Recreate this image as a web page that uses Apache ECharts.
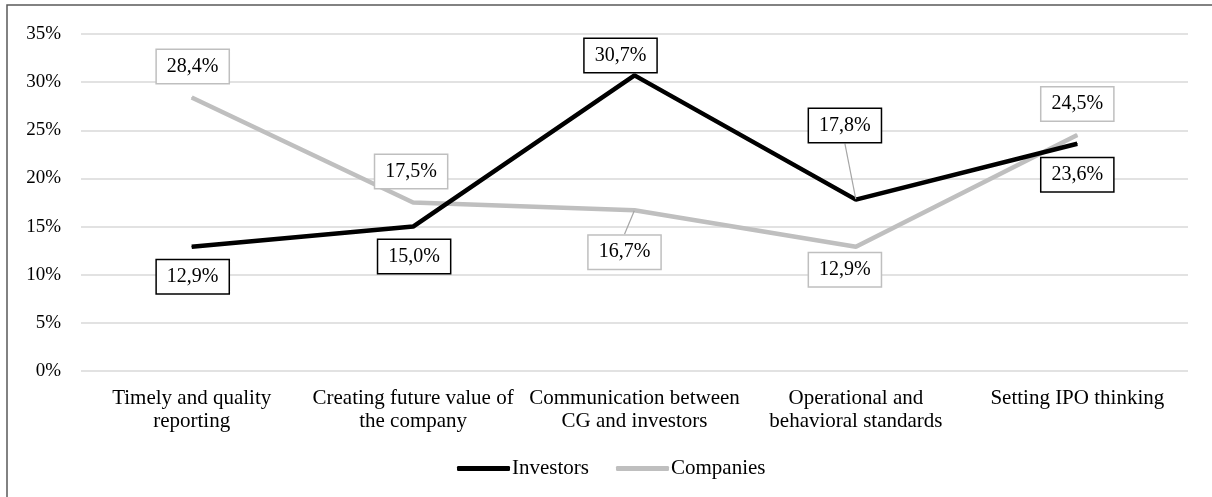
<!DOCTYPE html>
<html>
<head>
<meta charset="utf-8">
<script src="https://cdn.jsdelivr.net/npm/echarts@6/dist/echarts.min.js"></script>
<style>
  html, body { margin: 0; padding: 0; background: #fff; }
  #chart { width: 1212px; height: 497px; }
</style>
</head>
<body>
<div id="chart"></div>
<script>
  // categories on the x axis
  var categories = [
    'Timely and quality\nreporting',
    'Creating future value of\nthe company',
    'Communication between\nCG and investors',
    'Operational and\nbehavioral standards',
    'Setting IPO thinking'
  ]
  // share of answers, %
  var investors = [12.9, 15.0, 30.7, 17.8, 23.6]
  var companies = [28.4, 17.5, 16.7, 12.9, 24.5]
  var seriesNames = ['Investors', 'Companies']

  // where each data label box sits, relative to its point (px)
  var labelShift = [
    [[1, 30], [1, 30], [-14, -20], [-11, -74], [0, 31]],
    [[1, -31], [-2, -31], [-10, 42], [-11, 23], [0, -31]]
  ]
  // labels that get a leader line
  var withLine = [[false, false, false, true, false], [false, false, true, false, false]]

  var font = 'Liberation Serif'
  var chart = echarts.init(document.getElementById('chart'))

  function fmt(v) {
    return v.toFixed(1).replace('.', ',') + '%'
  }

  function makeData(values, s) {
    return values.map(function (v, i) {
      return {
        value: v,
        labelLine: { show: withLine[s][i] }
      }
    })
  }

  function labelStyle(border) {
    return {
      show: true,
      position: 'inside',
      formatter: function (p) { return fmt(p.value) },
      fontFamily: font,
      fontSize: 20,
      lineHeight: 20,
      color: '#000',
      backgroundColor: '#fff',
      borderColor: border,
      borderWidth: 1.5,
      padding: [7, 10, 6, 10]
    }
  }

  chart.setOption({
    backgroundColor: '#fff',
    animation: false,
    graphic: [{
      type: 'rect',
      shape: { x: 7, y: 5, width: 1220, height: 510 },
      style: { fill: null, stroke: '#595959', lineWidth: 1.5 },
      z: -1
    }],
    grid: {
      left: 81,
      right: 24,
      top: 34,
      bottom: 126
    },
    xAxis: {
      type: 'category',
      data: categories,
      boundaryGap: true,
      axisLine: { show: false },
      axisTick: { show: false },
      axisLabel: {
        fontFamily: font,
        fontSize: 21,
        color: '#000',
        lineHeight: 23,
        margin: 16,
        interval: 0
      }
    },
    yAxis: {
      type: 'value',
      min: 0,
      max: 35,
      interval: 5,
      axisLine: { show: false },
      axisTick: { show: false },
      axisLabel: {
        fontFamily: font,
        fontSize: 19,
        color: '#000',
        margin: 20,
        formatter: '{value}%'
      },
      splitLine: { lineStyle: { color: '#d9d9d9', width: 1.5 } }
    },
    legend: {
      data: seriesNames,
      top: 458,
      left: 457,
      padding: 0,
      icon: 'roundRect',
      itemWidth: 53,
      itemHeight: 5,
      itemGap: 27,
      textStyle: { fontFamily: font, fontSize: 21, color: '#000', padding: [0, 0, 0, -3] }
    },
    series: [
      {
        name: seriesNames[0],
        type: 'line',
        data: makeData(investors, 0),
        symbol: 'circle',
        symbolSize: 1,
        showSymbol: true,
        lineStyle: { color: '#000', width: 4.5 },
        itemStyle: { color: '#000' },
        label: labelStyle('#000'),
        labelLine: { lineStyle: { color: '#a6a6a6', width: 1.2 } },
        z: 3
      },
      {
        name: seriesNames[1],
        type: 'line',
        data: makeData(companies, 1),
        symbol: 'circle',
        symbolSize: 1,
        showSymbol: true,
        lineStyle: { color: '#bfbfbf', width: 4.5 },
        itemStyle: { color: '#bfbfbf' },
        label: labelStyle('#bfbfbf'),
        labelLine: { lineStyle: { color: '#a6a6a6', width: 1.2 } },
        z: 2
      }
    ],
    labelLayout: function (p) {
      var d = labelShift[p.seriesIndex][p.dataIndex]
      return { dx: d[0], dy: d[1] }
    }
  })
</script>
</body>
</html>
